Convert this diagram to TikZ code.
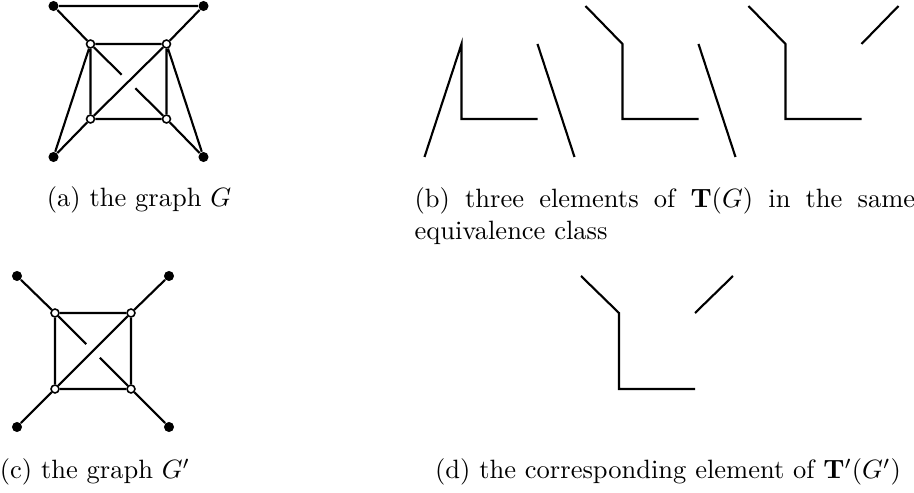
\documentclass[tikz,border=0pt]{standalone}
\usetikzlibrary{calc}
\begin{document}
\begin{tikzpicture}[x=0.37746pt,y=-0.37746pt,
  edge/.style={line width=0.8pt},
  wnode/.style={circle,draw,line width=0.6pt,fill=white,inner sep=0pt,minimum size=3pt},
  bnode/.style={circle,fill=black,inner sep=0pt,minimum size=3.8pt},
  captext/.style={inner sep=0pt,anchor=base}]
\useasboundingbox (0,0) rectangle (914,493);

% ---------- (a) graph G ----------
\node[bnode] (a1) at (53.5,6) {};
\node[bnode] (a2) at (203.5,6) {};
\node[wnode] (a3) at (90.5,44) {};
\node[wnode] (a4) at (166.5,44) {};
\node[wnode] (a5) at (90.5,119) {};
\node[wnode] (a6) at (166.5,119) {};
\node[bnode] (a7) at (53.5,157) {};
\node[bnode] (a8) at (203.5,157) {};
\draw[edge] (a1)--(a2) (a1)--(a3) (a2)--(a4) (a3)--(a4) (a3)--(a5) (a4)--(a6)
  (a5)--(a6) (a5)--(a4) (a3)--(a7) (a5)--(a7) (a4)--(a8) (a6)--(a8);
\draw[edge] (a3) -- ($(a3)!0.41!(a6)$) ($(a3)!0.59!(a6)$) -- (a6);

% ---------- (b) three elements ----------
\foreach \s/\n in {371/1,532/2,695/3}{
  \begin{scope}[shift={(\s,0)}]
    \coordinate (b\n tl) at (53.5,6);
    \coordinate (b\n tr) at (203.5,6);
    \coordinate (b\n itl) at (90.5,44);
    \coordinate (b\n itr) at (166.5,44);
    \coordinate (b\n ibl) at (90.5,119);
    \coordinate (b\n ibr) at (166.5,119);
    \coordinate (b\n bl) at (53.5,157);
    \coordinate (b\n br) at (203.5,157);
  \end{scope}
}
\draw[edge] (b1bl) -- (b1itl) -- (b1ibl) -- (b1ibr);
\draw[edge] (b1itr) -- (b1br);
\draw[edge] (b2tl) -- (b2itl) -- (b2ibl) -- (b2ibr);
\draw[edge] (b2itr) -- (b2br);
\draw[edge] (b3tl) -- (b3itl) -- (b3ibl) -- (b3ibr);
\draw[edge] (b3itr) -- (b3tr);

% ---------- (c) graph G' ----------
\node[bnode] (c1) at (17,276) {};
\node[bnode] (c2) at (169,276) {};
\node[wnode] (c3) at (55,313) {};
\node[wnode] (c4) at (131,313) {};
\node[wnode] (c5) at (55,389) {};
\node[wnode] (c6) at (131,389) {};
\node[bnode] (c7) at (17,427) {};
\node[bnode] (c8) at (169,427) {};
\draw[edge] (c1)--(c3) (c2)--(c4) (c7)--(c5) (c8)--(c6)
  (c3)--(c4) (c4)--(c6) (c6)--(c5) (c5)--(c3) (c5)--(c4);
\draw[edge] (c3) -- ($(c3)!0.41!(c6)$) ($(c3)!0.59!(c6)$) -- (c6);

% ---------- (d) element of T'(G') ----------
\begin{scope}[shift={(564,0)}]
  \coordinate (dtl) at (17,276);
  \coordinate (dtr) at (169,276);
  \coordinate (ditl) at (55,313);
  \coordinate (ditr) at (131,313);
  \coordinate (dibl) at (55,389);
  \coordinate (dibr) at (131,389);
\end{scope}
\draw[edge] (dtl) -- (ditl) -- (dibl) -- (dibr);
\draw[edge] (ditr) -- (dtr);

% ---------- captions ----------
\node[captext] (capa) at (139,207) {(a) the graph $G$};
\node[inner sep=0pt,anchor=north west,text width=189pt,align=justify] (capb) at (414,187)
  {(b) three elements of $\mathbf{T}(G)$ in the same equivalence class};
\node[captext] (capc) at (95,479) {(c) the graph $G'$};
\node[captext] (capd) at (668,479) {(d) the corresponding element of $\mathbf{T}'(G')$};
\end{tikzpicture}
\end{document}
